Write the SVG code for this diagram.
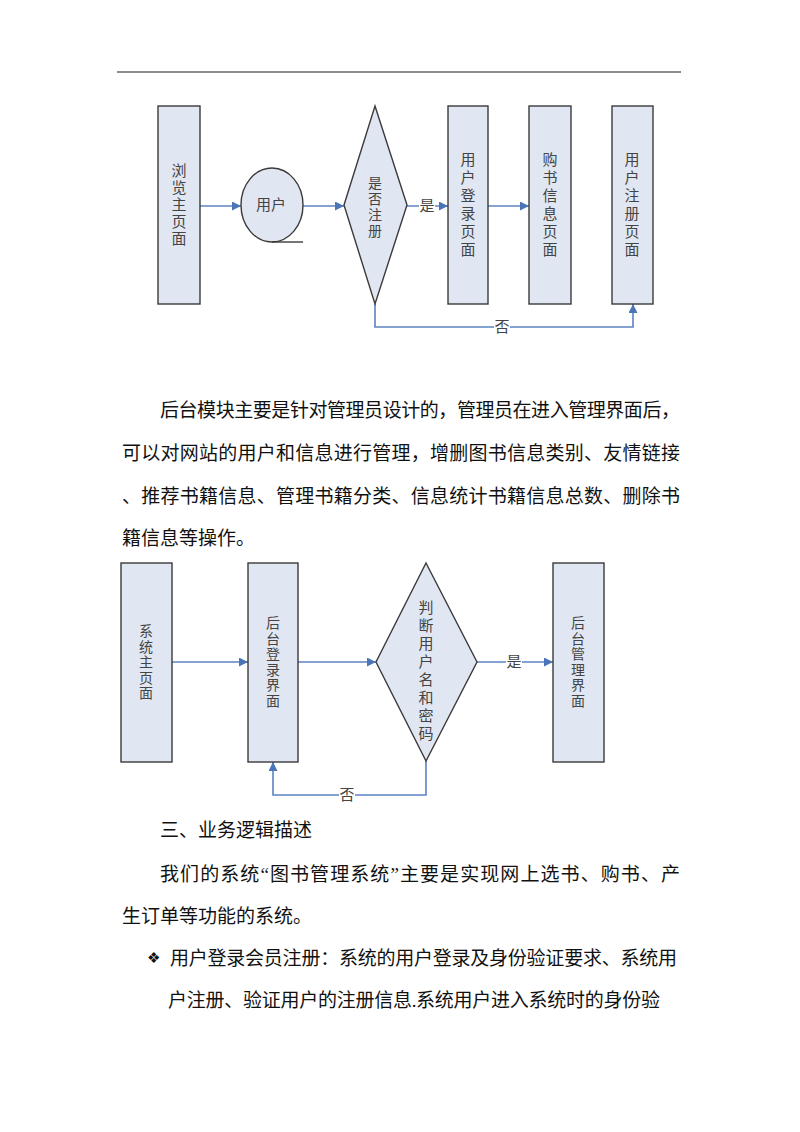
<svg xmlns="http://www.w3.org/2000/svg" width="800" height="1132" viewBox="0 0 800 1132">
<style>
.node{fill:#e1e7f2;stroke:#3a3a3a;stroke-width:1.4}
.lbl{font-family:"Liberation Serif","Noto Sans CJK SC",serif;font-size:15px;fill:#444;text-anchor:middle;dominant-baseline:central}
.lbl tspan{dominant-baseline:central}
.sm{font-size:14px}
.conn{fill:none;stroke:#5b84c4;stroke-width:1.6}
.tagbg{fill:#fff}
.body{font-family:"Liberation Serif","Noto Sans CJK SC",serif;font-size:19px;fill:#111;dominant-baseline:central}
</style>
<defs>
<marker id="arr" viewBox="0 0 10 10" refX="10" refY="5" markerWidth="9" markerHeight="9" markerUnits="userSpaceOnUse" orient="auto">
<path d="M0,0 L10,5 L0,10 z" fill="#4a76b8"/>
</marker>
</defs>
<rect width="800" height="1132" fill="#fff"/>
<line x1="117" y1="72" x2="681" y2="72" stroke="#666" stroke-width="1.6"/>

<!-- Diagram 1 connectors -->
<g id="connectors1">
<line class="conn" x1="200" y1="206" x2="241" y2="206" marker-end="url(#arr)"/>
<line class="conn" x1="303" y1="206" x2="344" y2="206" marker-end="url(#arr)"/>
<line class="conn" x1="407" y1="206" x2="448" y2="206" marker-end="url(#arr)"/>
<line class="conn" x1="488" y1="206" x2="529" y2="206" marker-end="url(#arr)"/>
<polyline class="conn" points="375,304 375,327 633,327 633,304" marker-end="url(#arr)"/>
<rect class="tagbg" x="419" y="198" width="16" height="16"/>
<text class="lbl" x="427" y="206">是</text>
<rect class="tagbg" x="494" y="319" width="16" height="16"/>
<text class="lbl" x="502" y="327">否</text>
</g>

<g id="n1">
<rect class="node" x="158" y="106" width="42" height="198"/>
<text class="lbl" y="171"><tspan x="179">浏</tspan><tspan x="179" dy="17">览</tspan><tspan x="179" dy="17">主</tspan><tspan x="179" dy="17">页</tspan><tspan x="179" dy="17">面</tspan></text>
</g>
<g id="n2">
<ellipse class="node" cx="272" cy="205" rx="31" ry="37"/>
<line x1="272" y1="242" x2="303" y2="242" stroke="#3a3a3a" stroke-width="1.4"/>
<text class="lbl" x="271" y="205">用户</text>
</g>
<g id="n3">
<polygon class="node" points="375,106 407,205 375,304 344,205"/>
<text class="lbl sm" y="183"><tspan x="375">是</tspan><tspan x="375" dy="16">否</tspan><tspan x="375" dy="16">注</tspan><tspan x="375" dy="16">册</tspan></text>
</g>
<g id="n4">
<rect class="node" x="448" y="106" width="40" height="198"/>
<text class="lbl" y="160"><tspan x="468">用</tspan><tspan x="468" dy="18">户</tspan><tspan x="468" dy="18">登</tspan><tspan x="468" dy="18">录</tspan><tspan x="468" dy="18">页</tspan><tspan x="468" dy="18">面</tspan></text>
</g>
<g id="n5">
<rect class="node" x="529" y="106" width="42" height="198"/>
<text class="lbl" y="160"><tspan x="550">购</tspan><tspan x="550" dy="18">书</tspan><tspan x="550" dy="18">信</tspan><tspan x="550" dy="18">息</tspan><tspan x="550" dy="18">页</tspan><tspan x="550" dy="18">面</tspan></text>
</g>
<g id="n6">
<rect class="node" x="612" y="106" width="41" height="198"/>
<text class="lbl" y="160"><tspan x="632">用</tspan><tspan x="632" dy="18">户</tspan><tspan x="632" dy="18">注</tspan><tspan x="632" dy="18">册</tspan><tspan x="632" dy="18">页</tspan><tspan x="632" dy="18">面</tspan></text>
</g>

<!-- Paragraph 1 -->
<text class="body" x="160" y="410" textLength="520" lengthAdjust="spacing">后台模块主要是针对管理员设计的，管理员在进入管理界面后，</text>
<text class="body" x="122" y="453" textLength="558" lengthAdjust="spacing">可以对网站的用户和信息进行管理，增删图书信息类别、友情链接</text>
<text class="body" x="122" y="496" textLength="558" lengthAdjust="spacing">、推荐书籍信息、管理书籍分类、信息统计书籍信息总数、删除书</text>
<text class="body" x="122" y="538">籍信息等操作。</text>

<!-- Diagram 2 connectors -->
<g id="connectors2">
<line class="conn" x1="172" y1="662" x2="248" y2="662" marker-end="url(#arr)"/>
<line class="conn" x1="298" y1="662" x2="376" y2="662" marker-end="url(#arr)"/>
<line class="conn" x1="477" y1="662" x2="553" y2="662" marker-end="url(#arr)"/>
<polyline class="conn" points="426,761 426,795 273,795 273,762" marker-end="url(#arr)"/>
<rect class="tagbg" x="506" y="654" width="16" height="16"/>
<text class="lbl" x="514" y="662">是</text>
<rect class="tagbg" x="339" y="787" width="16" height="16"/>
<text class="lbl" x="347" y="795">否</text>
</g>

<g id="m1">
<rect class="node" x="121" y="563" width="51" height="199"/>
<text class="lbl sm" y="631"><tspan x="146">系</tspan><tspan x="146" dy="15.5">统</tspan><tspan x="146" dy="15.5">主</tspan><tspan x="146" dy="15.5">页</tspan><tspan x="146" dy="15.5">面</tspan></text>
</g>
<g id="m2">
<rect class="node" x="248" y="563" width="50" height="199"/>
<text class="lbl sm" y="623.25"><tspan x="273">后</tspan><tspan x="273" dy="15.5">台</tspan><tspan x="273" dy="15.5">登</tspan><tspan x="273" dy="15.5">录</tspan><tspan x="273" dy="15.5">界</tspan><tspan x="273" dy="15.5">面</tspan></text>
</g>
<g id="m3">
<polygon class="node" points="426,563 477,662 426,761 376,662"/>
<text class="lbl" y="608"><tspan x="426">判</tspan><tspan x="426" dy="18">断</tspan><tspan x="426" dy="18">用</tspan><tspan x="426" dy="18">户</tspan><tspan x="426" dy="18">名</tspan><tspan x="426" dy="18">和</tspan><tspan x="426" dy="18">密</tspan><tspan x="426" dy="18">码</tspan></text>
</g>
<g id="m4">
<rect class="node" x="553" y="563" width="51" height="199"/>
<text class="lbl sm" y="623.25"><tspan x="578">后</tspan><tspan x="578" dy="15.5">台</tspan><tspan x="578" dy="15.5">管</tspan><tspan x="578" dy="15.5">理</tspan><tspan x="578" dy="15.5">界</tspan><tspan x="578" dy="15.5">面</tspan></text>
</g>

<!-- Section text -->
<text class="body" x="160" y="830">三、业务逻辑描述</text>
<text class="body" x="160" y="874" textLength="520" lengthAdjust="spacing">我们的系统“图书管理系统”主要是实现网上选书、购书、产</text>
<text class="body" x="122" y="916">生订单等功能的系统。</text>
<text class="body" x="147" y="958" style="font-family:'DejaVu Sans',sans-serif;font-size:15px">❖</text>
<text class="body" x="170" y="958" textLength="507" lengthAdjust="spacing">用户登录会员注册：系统的用户登录及身份验证要求、系统用</text>
<text class="body" x="168" y="1000" textLength="492" lengthAdjust="spacing">户注册、验证用户的注册信息.系统用户进入系统时的身份验</text>
</svg>
